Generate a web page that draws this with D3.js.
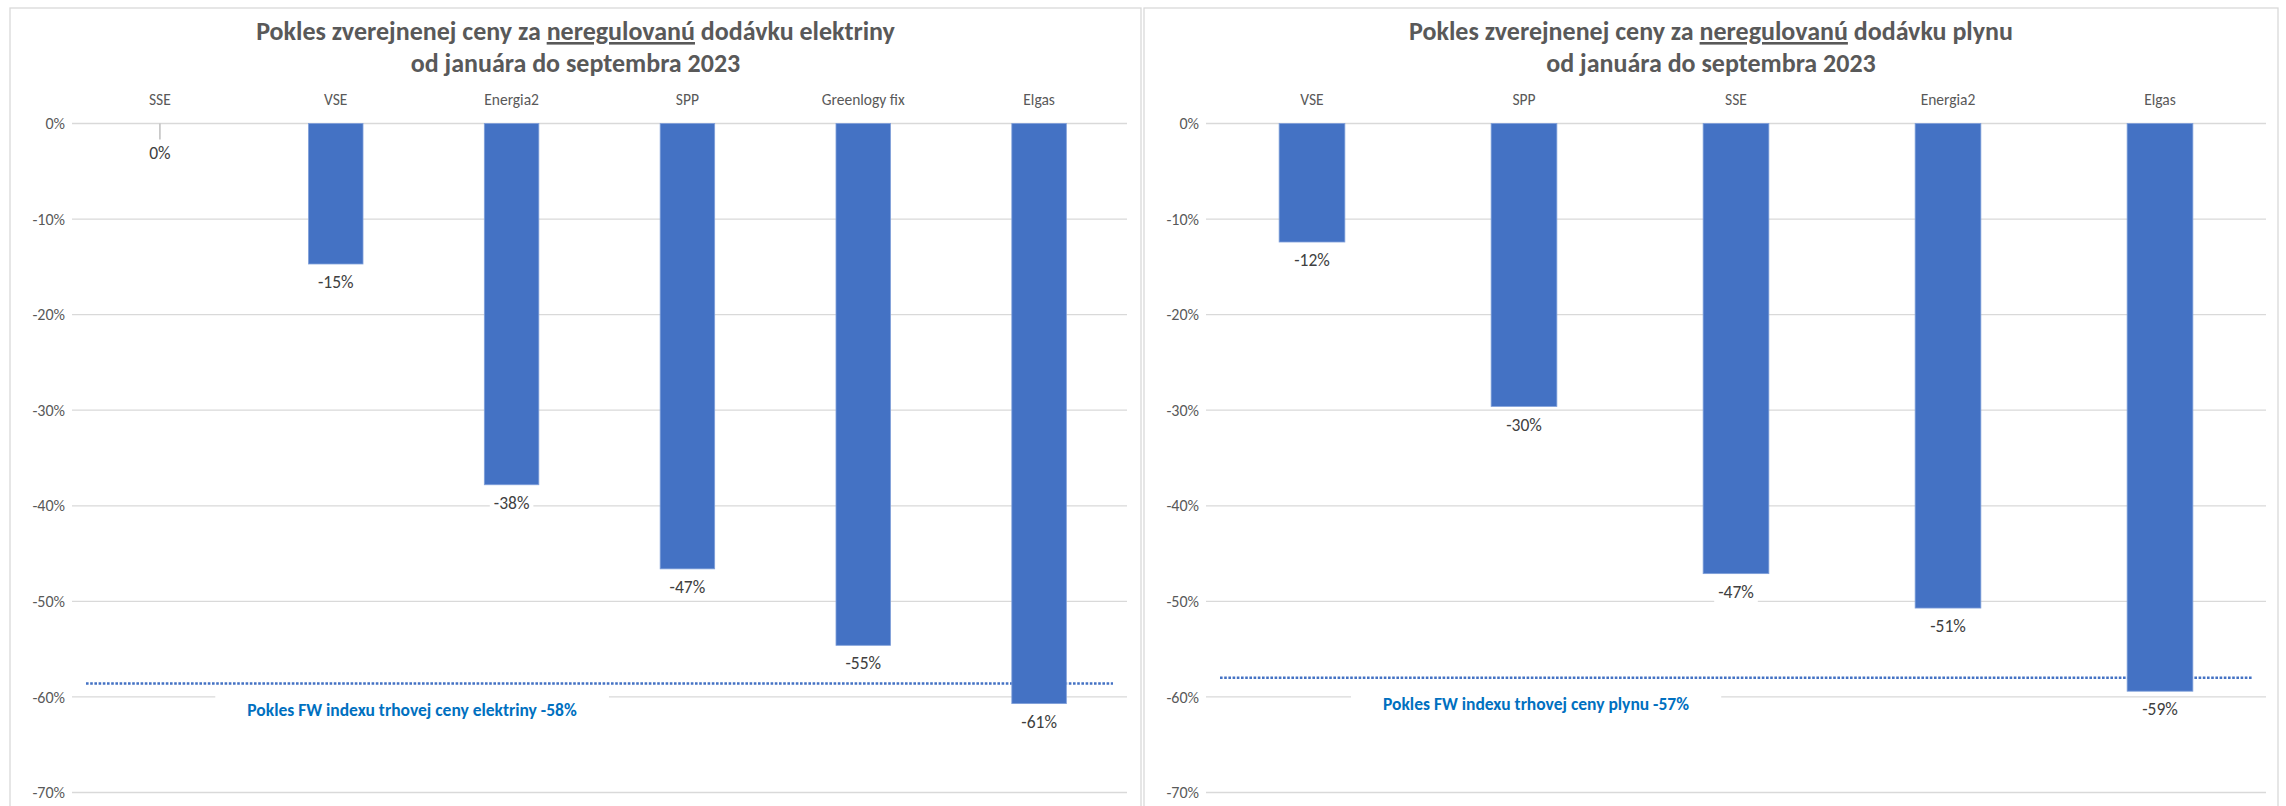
<!DOCTYPE html>
<html>
<head>
<meta charset="utf-8">
<script src="https://cdn.jsdelivr.net/npm/d3@7"></script>
<style>
  body { margin: 0; background: #fff; }
  svg { display: block; font-family: Calibri, Carlito, Lato, sans-serif; }
  .grid line { stroke: #d9d9d9; stroke-width: 1.3; }
  .tick-label { fill: #595959; font-size: 16px; }
  .cat-label { fill: #595959; font-size: 15.5px; }
  .value-label { fill: #404040; font-size: 17.5px; }
  .chart-title { fill: #595959; font-size: 26px; font-weight: 700; }
  .fw-note { fill: #0070c0; font-size: 17.5px; font-weight: 700; }
</style>
</head>
<body>
<svg id="chart" width="2286" height="806"></svg>
<script>
// electricity chart
const elecCategories = ['SSE', 'VSE', 'Energia2', 'SPP', 'Greenlogy fix', 'Elgas'];
const elecValues = [0, -14.7, -37.8, -46.6, -54.6, -60.7];
const elecLabels = ['0%', '-15%', '-38%', '-47%', '-55%', '-61%'];

// gas chart
const gasCategories = ['VSE', 'SPP', 'SSE', 'Energia2', 'Elgas'];
const gasValues = [-12.4, -29.6, -47.1, -50.7, -59.4];
const gasLabels = ['-12%', '-30%', '-47%', '-51%', '-59%'];

// y axis ticks (percent)
const yTicks = [0, -10, -20, -30, -40, -50, -60, -70];

// FW market index lines
const fwLevels = [-58.6, -58.0];
const fwNotes = ['Pokles FW indexu trhovej ceny elektriny -58%', 'Pokles FW indexu trhovej ceny plynu -57%'];

const titleStart = 'Pokles zverejnenej ceny za ';
const titleUnderlined = 'neregulovanú';
const titleEnds = [' dodávku elektriny', ' dodávku plynu'];
const titleLine2 = 'od januára do septembra 2023';

class DropChart {

  constructor(_config, _data) {
    this.config = {
      parentElement: _config.parentElement,
      x: _config.x,
      containerWidth: _config.containerWidth,
      containerHeight: 830,
      noteX: _config.noteX,
      margin: { top: 115.5, right: _config.marginRight, bottom: 0, left: 62 }
    };
    this.data = _data;
    this.initVis();
  }

  initVis() {
    let vis = this;

    vis.width = vis.config.containerWidth - vis.config.margin.left - vis.config.margin.right;
    vis.height = 669;

    vis.svg = d3.select(vis.config.parentElement);

    vis.panel = vis.svg.append('g')
      .attr('transform', `translate(${vis.config.x},8)`);

    // chart border
    vis.panel.append('rect')
      .attr('width', vis.config.containerWidth)
      .attr('height', vis.config.containerHeight)
      .attr('fill', '#fff')
      .attr('stroke', '#d9d9d9')
      .attr('stroke-width', 1.3);

    vis.chart = vis.panel.append('g')
      .attr('transform', `translate(${vis.config.margin.left},${vis.config.margin.top})`);

    vis.xScale = d3.scaleBand()
      .range([0, vis.width])
      .paddingInner(0.69)
      .paddingOuter(0.345);

    vis.yScale = d3.scaleLinear()
      .domain([0, -70])
      .range([0, vis.height]);

    vis.gridG = vis.chart.append('g').attr('class', 'grid');
    vis.tickG = vis.chart.append('g');
    vis.noteG = vis.chart.append('g');
    vis.barG = vis.chart.append('g');
    vis.labelG = vis.chart.append('g');

    // Title with underlined word
    const cx = vis.config.containerWidth / 2;
    const t1 = vis.panel.append('text')
      .attr('class', 'chart-title')
      .attr('x', cx)
      .attr('y', 32)
      .attr('text-anchor', 'middle');
    t1.append('tspan').text(titleStart);
    t1.append('tspan').attr('text-decoration', 'underline').text(titleUnderlined);
    t1.append('tspan').text(vis.data.titleEnd);

    vis.panel.append('text')
      .attr('class', 'chart-title')
      .attr('x', cx)
      .attr('y', 64)
      .attr('text-anchor', 'middle')
      .text(titleLine2);
  }

  updateVis() {
    let vis = this;
    vis.xScale.domain(vis.data.categories);
    vis.rows = vis.data.categories.map((c, i) => ({
      cat: c, value: vis.data.values[i], label: vis.data.labels[i]
    }));
    vis.renderVis();
  }

  renderVis() {
    let vis = this;
    const x = vis.xScale, y = vis.yScale;

    // gridlines
    vis.gridG.selectAll('line')
      .data(yTicks)
      .join('line')
      .attr('x1', 0)
      .attr('x2', vis.width)
      .attr('y1', d => y(d))
      .attr('y2', d => y(d));

    vis.tickG.selectAll('text')
      .data(yTicks)
      .join('text')
      .attr('class', 'tick-label')
      .attr('x', -7)
      .attr('y', d => y(d))
      .attr('dy', '0.35em')
      .attr('text-anchor', 'end')
      .text(d => d + '%');

    // category names on top
    vis.chart.selectAll('.cat-label')
      .data(vis.rows)
      .join('text')
      .attr('class', 'cat-label')
      .attr('x', d => x(d.cat) + x.bandwidth() / 2)
      .attr('y', -23.5)
      .attr('dy', '0.35em')
      .attr('text-anchor', 'middle')
      .text(d => d.cat);

    // FW index dotted line + note
    const fy = y(vis.data.fwLevel);
    vis.noteG.append('line')
      .attr('x1', 14)
      .attr('x2', vis.width - 14)
      .attr('y1', fy)
      .attr('y2', fy)
      .attr('stroke', '#4472c4')
      .attr('stroke-width', 2.6)
      .attr('stroke-dasharray', '2.6 1.6');

    const note = vis.noteG.append('text')
      .attr('class', 'fw-note')
      .attr('x', vis.config.noteX)
      .attr('y', fy + 26)
      .attr('dy', '0.35em')
      .attr('text-anchor', 'middle')
      .text(vis.data.fwNote);
    const nb = note.node().getBBox();
    vis.noteG.insert('rect', 'text')
      .attr('x', nb.x - 32)
      .attr('y', nb.y - 6)
      .attr('width', nb.width + 64)
      .attr('height', nb.height + 12)
      .attr('fill', '#fff');

    // bars
    vis.barG.selectAll('rect')
      .data(vis.rows.filter(d => d.value !== 0))
      .join('rect')
      .attr('x', d => x(d.cat))
      .attr('width', x.bandwidth())
      .attr('y', y(0))
      .attr('height', d => y(d.value) - y(0))
      .attr('fill', '#4472c4')
      .attr('stroke', '#7f9fd9')
      .attr('stroke-width', 0.8);

    // leader line for zero value
    vis.barG.selectAll('line')
      .data(vis.rows.filter(d => d.value === 0))
      .join('line')
      .attr('x1', d => x(d.cat) + x.bandwidth() / 2)
      .attr('x2', d => x(d.cat) + x.bandwidth() / 2)
      .attr('y1', y(0))
      .attr('y2', y(0) + 16)
      .attr('stroke', '#bfbfbf')
      .attr('stroke-width', 1.5);

    // value labels with white background
    const lab = vis.labelG.selectAll('g')
      .data(vis.rows)
      .join('g')
      .attr('transform', d => `translate(${x(d.cat) + x.bandwidth() / 2},${y(d.value) + (d.value === 0 ? 29 : 18)})`);
    lab.append('text')
      .attr('class', 'value-label')
      .attr('dy', '0.35em')
      .attr('text-anchor', 'middle')
      .text(d => d.label);
    lab.each(function () {
      const g = d3.select(this);
      const b = g.select('text').node().getBBox();
      g.insert('rect', 'text')
        .attr('x', b.x - 4)
        .attr('y', b.y)
        .attr('width', b.width + 8)
        .attr('height', b.height)
        .attr('fill', '#fff');
    });
  }
}

const elecChart = new DropChart({
  parentElement: '#chart', x: 10, containerWidth: 1131, marginRight: 14, noteX: 340
}, {
  categories: elecCategories, values: elecValues, labels: elecLabels,
  fwLevel: fwLevels[0], fwNote: fwNotes[0], titleEnd: titleEnds[0]
});
elecChart.updateVis();

const gasChart = new DropChart({
  parentElement: '#chart', x: 1144, containerWidth: 1134, marginRight: 12, noteX: 330
}, {
  categories: gasCategories, values: gasValues, labels: gasLabels,
  fwLevel: fwLevels[1], fwNote: fwNotes[1], titleEnd: titleEnds[1]
});
gasChart.updateVis();
</script>
</body>
</html>
